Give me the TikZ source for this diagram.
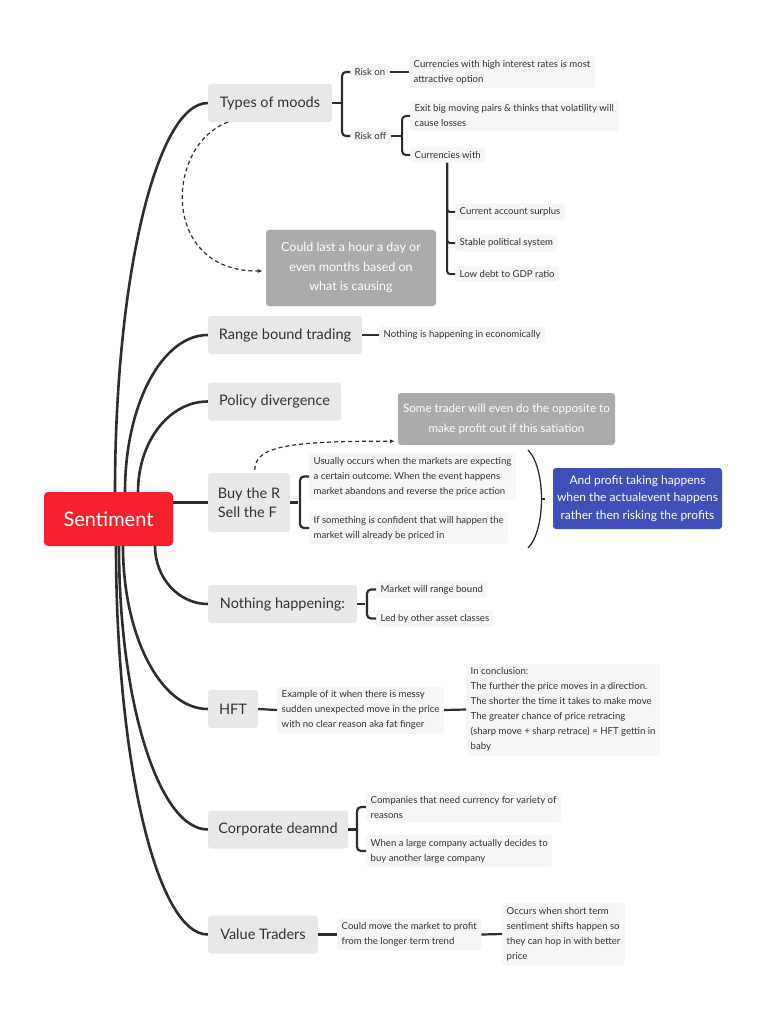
\documentclass[tikz,border=0pt]{standalone}
\usepackage{fontspec}
\setmainfont{Lato}
\usetikzlibrary{arrows.meta,calc}
\definecolor{txt}{RGB}{51,51,51}
\definecolor{linec}{RGB}{45,45,45}
\definecolor{maingray}{RGB}{232,232,232}
\definecolor{subgray}{RGB}{246,246,246}
\definecolor{notegray}{RGB}{171,171,171}
\definecolor{sentred}{RGB}{245,34,45}
\definecolor{blueb}{RGB}{64,80,184}
\frenchspacing
\tikzset{
  mainbox/.style={fill=maingray, rounded corners=3pt, minimum height=38pt, inner xsep=0pt, text=txt, font=\fontsize{14.5}{19}\selectfont},
  subbox/.style={fill=subgray, rounded corners=3pt, inner xsep=4.5pt, inner ysep=4pt, text=txt, align=left, anchor=west, font=\fontsize{9.6}{15}\selectfont},
  notebox/.style={fill=notegray, rounded corners=3pt, text=white, align=center, font=\fontsize{12.5}{19.5}\selectfont},
  bigline/.style={draw=linec, line width=2.6pt},
  brk/.style={draw=linec, line width=2.2pt, rounded corners=4pt},
  dashy/.style={draw=linec, line width=1.2pt, dash pattern=on 4pt off 3pt, -{Latex[length=5pt,width=4pt]}},
}
\begin{document}
\begin{tikzpicture}[x=1pt,y=-1pt]
\useasboundingbox (0,0) rectangle (768,1024);
\fill[white] (0,0) rectangle (768,1024);

% main nodes
\node[mainbox, minimum width=124pt] (tm) at (270,103) {Types of moods};
\node[mainbox, minimum width=154pt] (rbt) at (285,335) {Range bound trading};
\node[mainbox, minimum width=133pt] (pd) at (274.5,401.5) {Policy divergence};
\node[mainbox, minimum width=82pt, minimum height=59pt, align=left] (buy) at (249,502.5) {Buy the R\\Sell the F};
\node[mainbox, minimum width=149pt] (nh) at (282.5,604) {Nothing happening:};
\node[mainbox, minimum width=50pt] (hft) at (233,709) {HFT};
\node[mainbox, minimum width=140pt] (cd) at (278,829.5) {Corporate deamnd};
\node[mainbox, minimum width=110pt] (vt) at (263,934.5) {Value Traders};

% main connectors (drawn before the central node)
\draw[bigline] ($(108.5,519)+(6.5,-27)$) .. controls +(0,-215) and +(-51,0) .. (tm.west);
\draw[bigline] ($(108.5,519)+(16.5,-27)$) .. controls +(0,-87) and +(-46,0) .. (rbt.west);
\draw[bigline] ($(108.5,519)+(29.5,-27)$) .. controls +(0,-50) and +(-39,0) .. (pd.west);
\draw[bigline] ($(108.5,519)+(46.5,27)$) .. controls +(0,32) and +(-29,0) .. (nh.west);
\draw[bigline] ($(108.5,519)+(14.5,27)$) .. controls +(0,90) and +(-47,0) .. (hft.west);
\draw[bigline] ($(108.5,519)+(10.5,27)$) .. controls +(0,156) and +(-49,0) .. (cd.west);
\draw[bigline] ($(108.5,519)+(7.5,27)$) .. controls +(0,215) and +(-51,0) .. (vt.west);

\node[fill=sentred, rounded corners=4pt, minimum width=129pt, minimum height=54pt, text=white, font=\fontsize{20}{24}\selectfont] (sent) at (108.5,519) {Sentiment};
\draw[bigline] (sent.east |- buy.west) -- (buy.west);

% Types of moods branch
\node[subbox] (ron) at (350,72) {Risk on};
\node[subbox] (rof) at (350,136) {Risk off};
\node[subbox] (c1) at (409,72) {Currencies with high interest rates is most\\attractive option};
\node[subbox] (c2) at (410,116) {Exit big moving pairs \& thinks that volatility will\\cause losses};
\node[subbox] (c3) at (410,155) {Currencies with};
\node[subbox] (d1) at (455,212) {Current account surplus};
\node[subbox] (d2) at (455,243) {Stable political system};
\node[subbox] (d3) at (455,274) {Low debt to GDP ratio};
\node[notebox, minimum width=170pt, minimum height=76pt] (cl) at (351,268) {Could last a hour a day or\\even months based on\\what is causing};

\draw[brk] (tm.east) -- ++(9,0);
\draw[brk] (ron.west) -- ++(-8,0) |- (rof.west);
\draw[brk, line width=2pt] (ron.east) -- (c1.west);
\draw[brk, line width=2pt] (rof.east) -- ++(10,0);
\draw[brk, line width=2pt] (c2.west) -- ++(-8,0) |- (c3.west);
\coordinate (cv) at ($(c3.south west)+(37,0)$);
\draw[brk, line width=2pt, rounded corners=3pt] (cv) |- (d1.west);
\draw[brk, line width=2pt, rounded corners=3pt] (cv) |- (d2.west);
\draw[brk, line width=2pt, rounded corners=3pt] (cv) |- (d3.west);
\draw[dashy] ($(tm.south west)+(20,0)$) .. controls (165,145) and (160,272) .. ($(cl.west)+(-3,3)$);

% Range bound trading
\node[subbox] (rb1) at (379,335) {Nothing is happening in economically};
\draw[brk, line width=2pt] (rbt.east) -- (rb1.west);

% Buy the R Sell the F
\node[notebox, minimum width=217pt, minimum height=52pt, font=\fontsize{11.6}{19.5}\selectfont] (st) at (506.5,419) {Some trader will even do the opposite to\\make profit out if this satiation};
\node[subbox] (u1) at (309,476.5) {Usually occurs when the markets are expecting\\a certain outcome. When the event happens\\market abandons and reverse the price action};
\node[subbox] (u2) at (309,528) {If something is confident that will happen the\\market will already be priced in};
\node[fill=blueb, rounded corners=3pt, text=white, align=center, minimum width=169pt, minimum height=61pt, font=\fontsize{12}{17.5}\selectfont] (bl) at (637.5,498.5) {And profit taking happens\\when the actualevent happens\\rather then risking the profits};
\draw[brk] (buy.east) -- ++(8,0);
\draw[brk] (u1.west) -- ++(-9,0) |- (u2.west);
\coordinate (pa) at (528,450);
\coordinate (pb) at (528,548);
\coordinate (pm) at (541,499);
\draw[draw=linec, line width=1.3pt] (pa) .. controls (546,468) and (546,530) .. (pb);
\draw[draw=linec, line width=1.3pt] (pm) -- ++(4,0);
\draw[dashy] ($(buy.north west)+(47,-3)$) .. controls (255,446) and (290,441) .. ($(st.south west)+(-3,-4)$);

% Nothing happening
\node[subbox] (n1) at (376,589.5) {Market will range bound};
\node[subbox] (n2) at (376,618.5) {Led by other asset classes};
\draw[brk] (nh.east) -- ++(8,0);
\draw[brk] (n1.west) -- ++(-9,0) |- (n2.west);

% HFT
\node[subbox] (h1) at (277,710) {Example of it when there is messy\\sudden unexpected move in the price\\with no clear reason aka fat finger};
\node[subbox] (h2) at (466,709.5) {In conclusion:\\The further the price moves in a direction.\\The shorter the time it takes to make move\\The greater chance of price retracing\\(sharp move + sharp retrace) = HFT gettin in\\baby};
\draw[brk] (hft.east) -- (h1.west);
\draw[brk] (h1.east) -- (h2.west);

% Corporate demand
\node[subbox] (k1) at (366,807) {Companies that need currency for variety of\\reasons};
\node[subbox] (k2) at (366,851) {When a large company actually decides to\\buy another large company};
\draw[brk] (cd.east) -- ++(8,0);
\draw[brk] (k1.west) -- ++(-9,0) |- (k2.west);

% Value traders
\node[subbox] (v1) at (337,934.5) {Could move the market to profit\\from the longer term trend};
\node[subbox] (v2) at (502,934) {Occurs when short term\\sentiment shifts happen so\\they can hop in with better\\price};
\draw[brk] (vt.east) -- (v1.west);
\draw[brk] (v1.east) -- (v2.west);
\end{tikzpicture}
\end{document}
